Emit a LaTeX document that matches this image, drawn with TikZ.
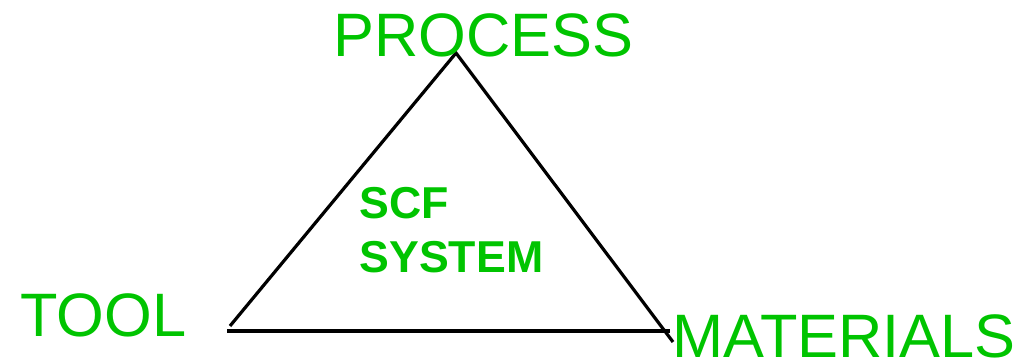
\documentclass[tikz,border=0pt]{standalone}
\usepackage{fontspec}
\setmainfont{Liberation Sans}
\definecolor{scfgreen}{RGB}{0,196,0}
\begin{document}
\begin{tikzpicture}[x=0.75pt,y=-0.75pt,line width=2.4pt,
	lbl/.style={text=scfgreen,inner sep=0pt,anchor=base west,font=\fontsize{46}{54}\selectfont},
	mid/.style={text=scfgreen,inner sep=0pt,anchor=base west,font=\bfseries\fontsize{33.5}{40.5}\selectfont,align=left}]
		\useasboundingbox (0,0) rectangle (1020,359);
		\coordinate (top) at (456,53);
		\coordinate (bl) at (230,326);
		\coordinate (br) at (673,342);
		\coordinate (b1) at (227,331);
		\coordinate (b2) at (670,331);
		\draw (bl)--(top)--(br);
		\draw (b1)--(b2);
		\node[lbl] (process) at (332,57) {PROCESS};
		\node[lbl] (tool) at (19,336) {TOOL};
		\node[lbl] (materials) at (671,358) {MATERIALS};
		\node[mid] (scf) at (358,273) {SCF\\SYSTEM};
	\end{tikzpicture}
\end{document}
